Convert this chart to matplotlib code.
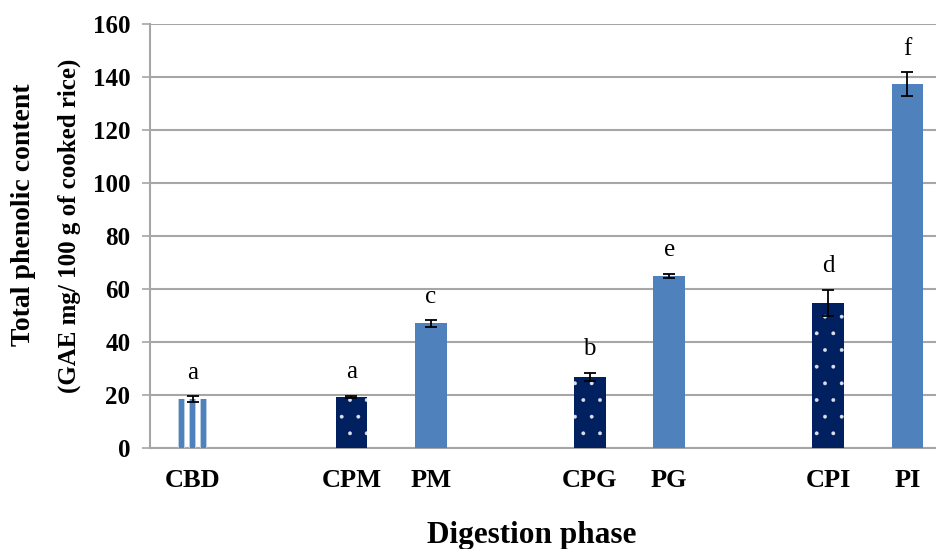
import matplotlib
matplotlib.use("Agg")
import matplotlib.pyplot as plt
import numpy as np

# Data
labels = ['CBD', '', 'CPM', 'PM', '', 'CPG', 'PG', '', 'CPI', 'PI']
bar_slots = [0, 2, 3, 5, 6, 8, 9]
bar_names = ['CBD', 'CPM', 'PM', 'CPG', 'PG', 'CPI', 'PI']
values = [18.5, 19.3, 47.0, 26.8, 65.0, 54.8, 137.3]
errors = [1.0, 0.4, 1.2, 1.5, 0.8, 4.8, 4.5]
letters = ['a', 'a', 'c', 'b', 'e', 'd', 'f']
kinds = ['stripe', 'dots', 'solid', 'dots', 'solid', 'dots', 'solid']

plt.rcParams['font.family'] = ['Liberation Serif', 'DejaVu Serif']
plt.rcParams['hatch.linewidth'] = 0.3

fig = plt.figure(figsize=(9.36, 5.49), dpi=100)
ax = fig.add_axes([0.160, 0.184, 0.840, 0.772])

blue = '#4F81BD'
light = '#B9CDE5'
navy = '#002060'
grid_c = '#A6A6A6'

for slot, v, kind in zip(bar_slots, values, kinds):
    if kind == 'solid':
        ax.bar(slot, v, width=0.4, color=blue, linewidth=0, zorder=3)
    elif kind == 'dots':
        ax.bar(slot, v, width=0.4, facecolor=navy, edgecolor='#DDE3EE',
               hatch='.', linewidth=0, zorder=3)
    else:
        # vertical stripe fill: three blue stripes on white
        for off in (-0.139, 0.0, 0.139):
            ax.bar(slot + off, v, width=0.085, color=light, linewidth=0, zorder=3)
            ax.bar(slot + off, v, width=0.058, color=blue, linewidth=0, zorder=3)

ax.errorbar(bar_slots, values, yerr=errors, fmt='none', ecolor='black',
            elinewidth=1.3, capsize=4.5, capthick=1.3, zorder=4)

for slot, v, e, t in zip(bar_slots, values, errors, letters):
    ax.annotate(t, (slot, v + e), xytext=(0, 17), textcoords='offset points',
                ha='center', va='center', fontsize=18)

ax.set_xlim(-0.54, 9.36)
ax.set_ylim(0, 160)
ax.set_yticks(np.arange(0, 161, 20))
ax.yaxis.grid(True, color=grid_c, linewidth=1.5, zorder=0)
ax.set_axisbelow(True)

ax.set_xticks(range(len(labels)))
ax.set_xticklabels(labels, fontsize=19, fontweight='bold')
ax.tick_params(axis='x', length=0, pad=15)
ax.tick_params(axis='y', length=6, color=grid_c, width=1.2, labelsize=18, pad=8)
for lab in ax.get_yticklabels():
    lab.set_fontweight('bold')

for s in ['top', 'right']:
    ax.spines[s].set_visible(False)
ax.spines['left'].set_color(grid_c)
ax.spines['left'].set_linewidth(1.5)
ax.spines['bottom'].set_color(grid_c)
ax.spines['bottom'].set_linewidth(1.5)

fig.text(0.025, 0.608, 'Total phenolic content', rotation=90, ha='center',
         va='center', fontsize=20, fontweight='bold')
fig.text(0.074, 0.588, '(GAE mg/ 100 g of cooked rice)', rotation=90,
         ha='center', va='center', fontsize=18, fontweight='bold')
fig.text(0.568, 0.025, 'Digestion phase', ha='center', va='center',
         fontsize=22.5, fontweight='bold')

fig.savefig('out.png', dpi=100)
